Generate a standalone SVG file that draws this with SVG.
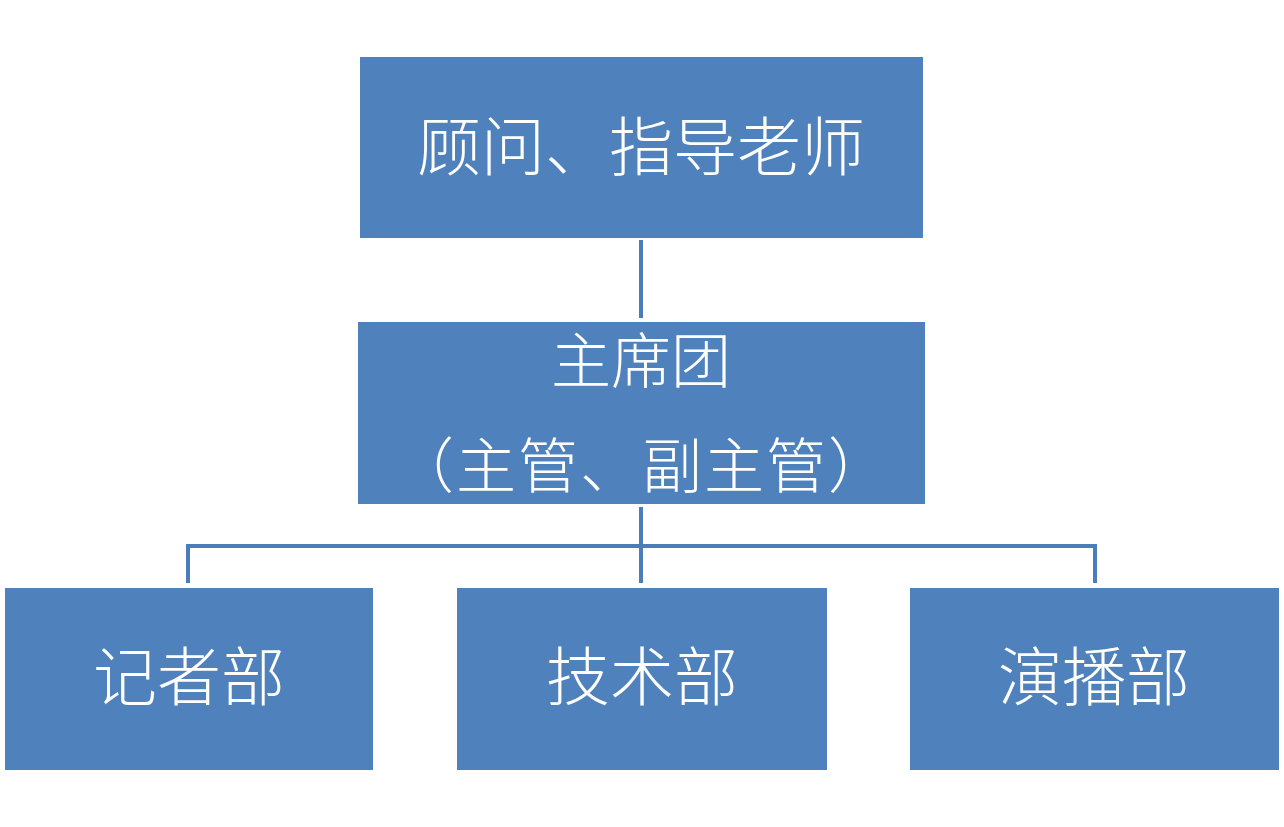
<svg xmlns="http://www.w3.org/2000/svg" width="1284" height="827" viewBox="0 0 1284 827">
<style>
.box{fill:#4F81BD}
.lbl{fill:#fff;font-family:"Noto Sans CJK SC","Noto Sans CJK JP",sans-serif;font-weight:300;text-anchor:middle;dominant-baseline:central}
.con{stroke:#4A7EBB;stroke-width:4;fill:none}
</style>
<rect width="1284" height="827" fill="#fff"/>
<g id="connectors">
<line class="con" x1="641" y1="240" x2="641" y2="318"/>
<line class="con" x1="641" y1="507" x2="641" y2="583"/>
<polyline class="con" points="188,583 188,546 1095,546 1095,583"/>
</g>
<g id="n-advisor">
<rect class="box" x="360" y="57" width="563" height="181"/>
<text class="lbl" x="641" y="142" font-size="64">顾问、指导老师</text>
</g>
<g id="n-presidium">
<rect class="box" x="358" y="322" width="567" height="182"/>
<text class="lbl" x="641" y="356" font-size="60">主席团</text>
<text class="lbl" x="642" y="461" font-size="60" letter-spacing="2">（主管、副主管）</text>
</g>
<g id="n-reporter">
<rect class="box" x="5" y="588" width="368" height="182"/>
<text class="lbl" x="189" y="672" font-size="64">记者部</text>
</g>
<g id="n-tech">
<rect class="box" x="457" y="588" width="370" height="182"/>
<text class="lbl" x="642" y="672" font-size="64">技术部</text>
</g>
<g id="n-broadcast">
<rect class="box" x="910" y="588" width="369" height="182"/>
<text class="lbl" x="1094" y="672" font-size="64">演播部</text>
</g>
</svg>
